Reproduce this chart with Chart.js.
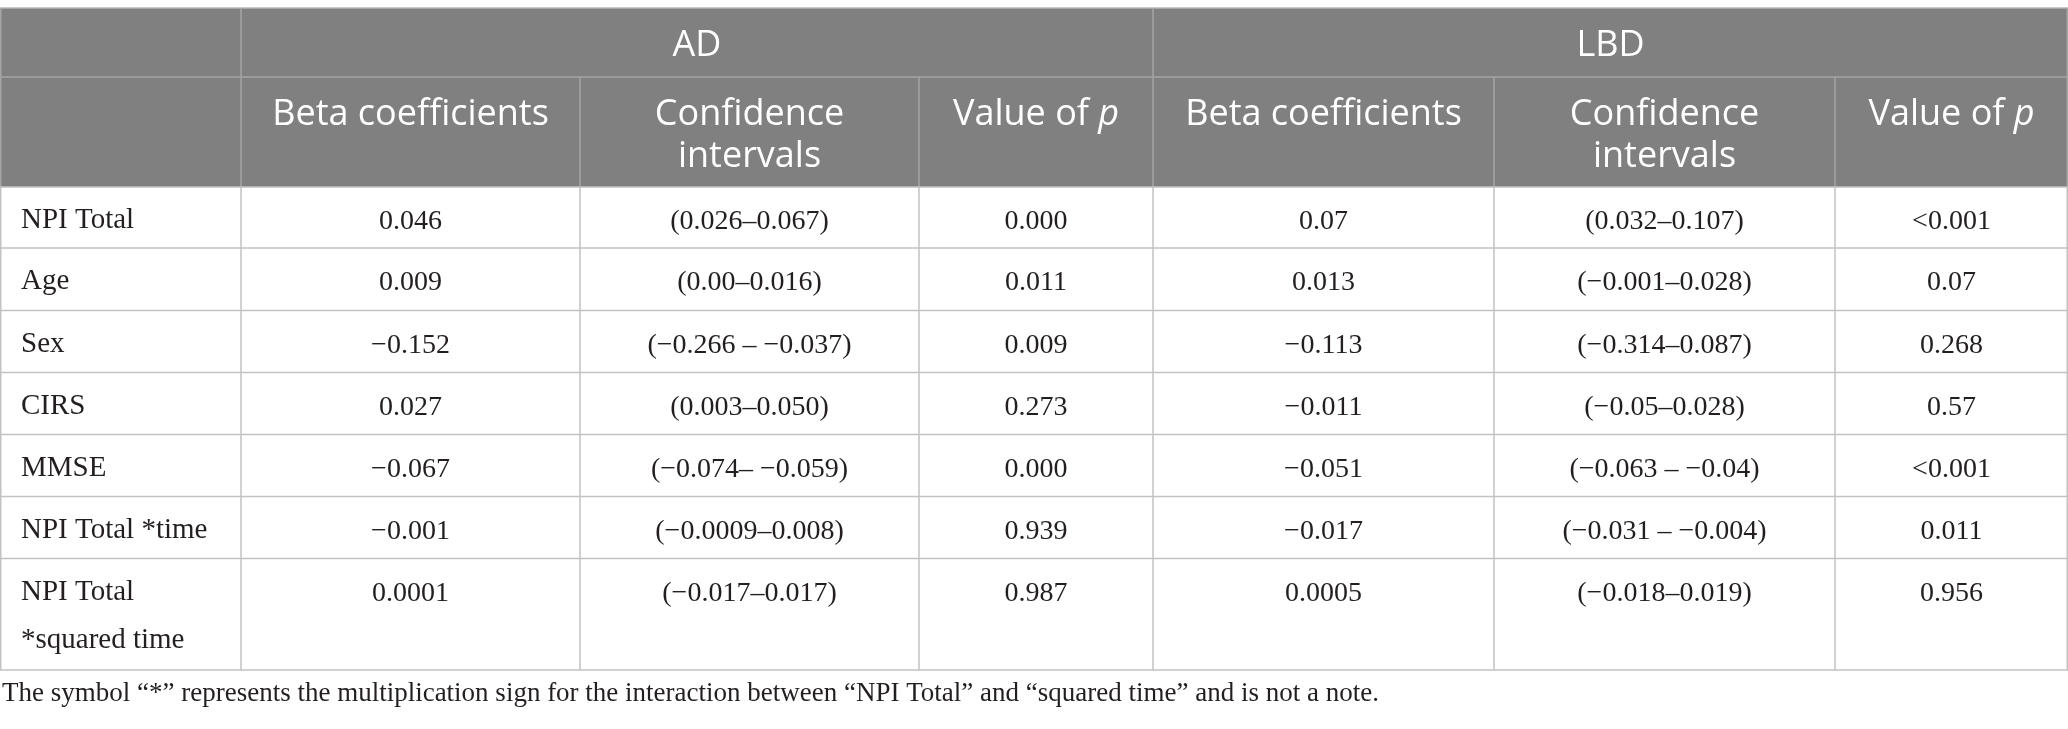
<!DOCTYPE html>
<html>
<head>
<meta charset="utf-8">
<script src="https://cdn.jsdelivr.net/npm/chart.js@4.4.1/dist/chart.umd.min.js"></script>
<style>
  html, body { margin: 0; padding: 0; background: #fff; }
  .wrap { width: 2068px; height: 729px; position: relative; }
</style>
</head>
<body>
<div class="wrap"><canvas id="table-chart"></canvas></div>
<script>
const groups = ['AD', 'LBD'];
const measures = ['Beta coefficients', 'Confidence\nintervals', 'Value of p'];
const rowLabels = ['NPI Total', 'Age', 'Sex', 'CIRS', 'MMSE', 'NPI Total *time', 'NPI Total\n*squared time'];

const adBeta = ['0.046', '0.009', '−0.152', '0.027', '−0.067', '−0.001', '0.0001'];
const adCI = ['(0.026–0.067)', '(0.00–0.016)', '(−0.266 – −0.037)', '(0.003–0.050)', '(−0.074– −0.059)', '(−0.0009–0.008)', '(−0.017–0.017)'];
const adP = ['0.000', '0.011', '0.009', '0.273', '0.000', '0.939', '0.987'];

const lbdBeta = ['0.07', '0.013', '−0.113', '−0.011', '−0.051', '−0.017', '0.0005'];
const lbdCI = ['(0.032–0.107)', '(−0.001–0.028)', '(−0.314–0.087)', '(−0.05–0.028)', '(−0.063 – −0.04)', '(−0.031 – −0.004)', '(−0.018–0.019)'];
const lbdP = ['<0.001', '0.07', '0.268', '0.57', '<0.001', '0.011', '0.956'];

const footnote = 'The symbol “*” represents the multiplication sign for the interaction between “NPI Total” and “squared time” and is not a note.';

// layout, in reference pixels (the scales map them to the canvas)
const colEdges = [0, 241, 580, 919, 1153, 1494, 1835, 2068];
const rowEdges = [8, 77, 187, 248, 310.5, 372.5, 434.5, 496.5, 558.5, 670];
const headFont = '36px "Open Sans"';
const labelFont = '29px "Liberation Serif"';
const cellFont = '28px "Liberation Serif"';
const noteFont = '27px "Liberation Serif"';

const dataColumns = [adBeta, adCI, adP, lbdBeta, lbdCI, lbdP];

const tablePlugin = {
  id: 'tableCells',
  afterDraw(chart) {
    const { ctx } = chart;
    const px = (v) => chart.scales.x.getPixelForValue(v);
    const py = (v) => chart.scales.y.getPixelForValue(v);
    const left = colEdges[0];
    const right = colEdges[colEdges.length - 1];
    const last = rowEdges.length - 1;

    const line = (x1, y1, x2, y2, color, w) => {
      ctx.strokeStyle = color;
      ctx.lineWidth = w;
      ctx.beginPath();
      ctx.moveTo(px(x1), py(y1));
      ctx.lineTo(px(x2), py(y2));
      ctx.stroke();
    };

    ctx.save();

    // header block
    ctx.fillStyle = '#7f807f';
    ctx.fillRect(px(left), py(rowEdges[0]), px(right) - px(left), py(rowEdges[2]) - py(rowEdges[0]));

    const headLine = '#a4a5a4';
    line(left, rowEdges[0], right, rowEdges[0], '#b4b4b4', 1.5);
    line(left, rowEdges[1], right, rowEdges[1], headLine, 1.5);
    [1, 4].forEach((c) => line(colEdges[c], rowEdges[0], colEdges[c], rowEdges[2], headLine, 1.5));
    [2, 3, 5, 6].forEach((c) => line(colEdges[c], rowEdges[1], colEdges[c], rowEdges[2], headLine, 1.5));
    line(left + 0.75, rowEdges[0], left + 0.75, rowEdges[2], headLine, 1.5);
    line(right - 0.75, rowEdges[0], right - 0.75, rowEdges[2], headLine, 1.5);

    // body grid
    const bodyLine = '#c2c2c2';
    for (let r = 2; r <= last; r++) line(left, rowEdges[r], right, rowEdges[r], bodyLine, 1.5);
    colEdges.forEach((c, i) => {
      const xx = i === 0 ? c + 0.75 : (i === colEdges.length - 1 ? c - 0.75 : c);
      line(xx, rowEdges[2], xx, rowEdges[last], bodyLine, 1.5);
    });

    // header text
    ctx.fillStyle = '#ffffff';
    ctx.textBaseline = 'alphabetic';
    ctx.font = headFont;
    ctx.textAlign = 'center';
    groups.forEach((g, i) => {
      const c0 = colEdges[1 + i * 3];
      const c1 = colEdges[4 + i * 3];
      ctx.fillText(g, (px(c0) + px(c1)) / 2, py(rowEdges[0] + 48));
    });

    for (let i = 0; i < 6; i++) {
      const label = measures[i % 3];
      const cx = (px(colEdges[i + 1]) + px(colEdges[i + 2])) / 2;
      if (label.endsWith(' p')) {
        // "p" is set in italics
        const head = label.slice(0, -1);
        ctx.font = headFont;
        const w1 = ctx.measureText(head).width;
        ctx.font = 'italic ' + headFont;
        const w2 = ctx.measureText('p').width;
        const x0 = cx - (w1 + w2) / 2;
        ctx.textAlign = 'left';
        ctx.font = headFont;
        ctx.fillText(head, x0, py(rowEdges[1] + 48));
        ctx.font = 'italic ' + headFont;
        ctx.fillText('p', x0 + w1, py(rowEdges[1] + 48));
        ctx.textAlign = 'center';
        ctx.font = headFont;
      } else {
        label.split('\n').forEach((ln, k) => {
          ctx.fillText(ln, cx, py(rowEdges[1] + 48 + k * 42));
        });
      }
    }

    // body text
    ctx.fillStyle = '#231f20';
    rowLabels.forEach((label, r) => {
      const top = rowEdges[r + 2];
      ctx.font = labelFont;
      ctx.textAlign = 'left';
      label.split('\n').forEach((ln, k) => {
        ctx.fillText(ln, px(colEdges[0] + 21), py(top + 41 + k * 48));
      });
      ctx.font = cellFont;
      ctx.textAlign = 'center';
      dataColumns.forEach((col, c) => {
        const cx = (px(colEdges[c + 1]) + px(colEdges[c + 2])) / 2;
        ctx.fillText(col[r], cx, py(top + 42));
      });
    });

    // footnote
    ctx.font = noteFont;
    ctx.textAlign = 'left';
    ctx.fillText(footnote, px(left + 2), py(rowEdges[last] + 31));

    ctx.restore();
  }
};

document.addEventListener('DOMContentLoaded', () => {
  const canvas = document.getElementById('table-chart');

  new Chart(canvas, {
    type: 'scatter',
    data: { datasets: [] },
    options: {
      responsive: true,
      maintainAspectRatio: false,
      animation: false,
      layout: { padding: 0 },
      plugins: { legend: { display: false }, tooltip: { enabled: false } },
      scales: {
        x: { type: 'linear', min: 0, max: 2068, display: false },
        y: { type: 'linear', min: 0, max: 729, reverse: true, display: false },
      },
    },
    plugins: [tablePlugin],
  });
});
</script>
</body>
</html>
